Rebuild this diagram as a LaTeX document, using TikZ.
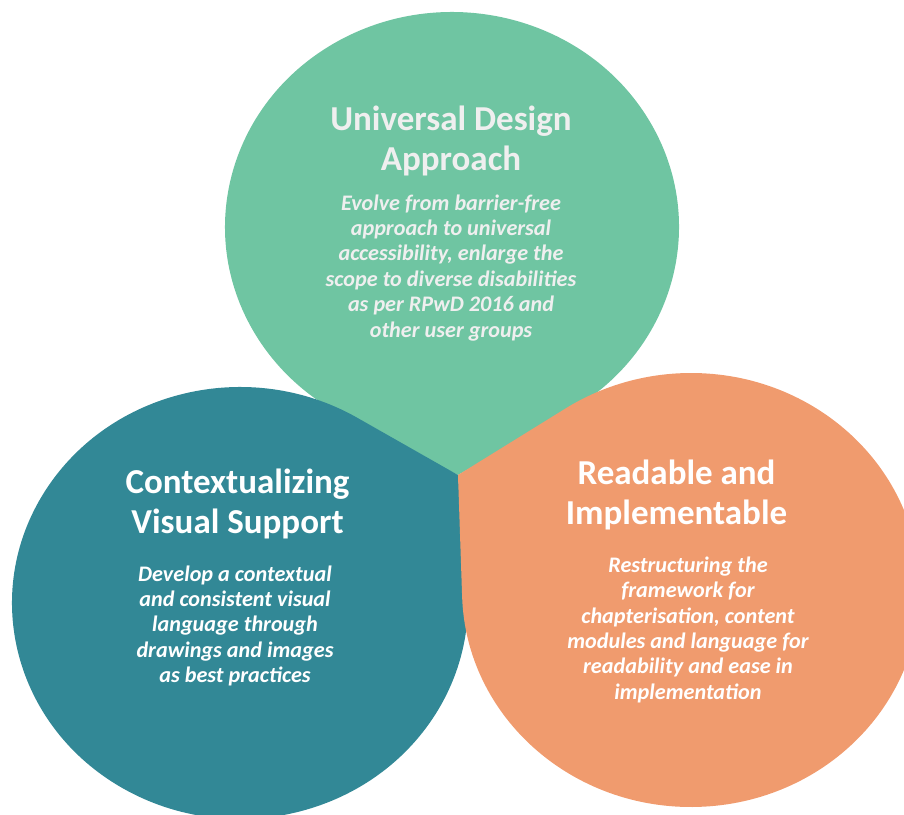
\documentclass[tikz,border=0pt]{standalone}
\usepackage{fontspec}
\setmainfont{Carlito}
\usetikzlibrary{calc}
\definecolor{udgreen}{HTML}{6FC5A2}
\definecolor{cvteal}{HTML}{328896}
\definecolor{riorange}{HTML}{F09B6E}
\definecolor{paletext}{HTML}{EFEFEF}

\begin{document}
\begin{tikzpicture}[x=1pt,y=1pt,
    head/.style={font=\fontsize{35}{40}\selectfont\bfseries,align=center,anchor=base},
    body/.style={font=\fontsize{22.2}{25.4}\selectfont\bfseries\itshape,align=center,anchor=base}]
  \useasboundingbox (0,0) rectangle (904,-814);
  \coordinate (tip) at (458,-475);
  \coordinate (gc) at (452,-227);
  \coordinate (tc) at (240,-603);
  \coordinate (oc) at (691,-590);
  \fill[udgreen] (tip) -- ($(gc)+(-58.8:227 and 215)$) arc[start angle=-58.8,end angle=241.4,x radius=227,y radius=215] -- cycle;
  \fill[cvteal] (tip) -- ($(tc)+(59.04:228 and 216)$) arc[start angle=59.04,end angle=364.54,x radius=228,y radius=216] -- cycle;
  \fill[riorange] (tip) -- ($(oc)+(181.83:229 and 217)$) arc[start angle=181.83,end angle=483.13,x radius=229,y radius=217] -- cycle;
  \node[head,text=paletext] (udhead) at (451,-170.5) {Universal Design\\Approach};
  \node[body,text=paletext] (udtext) at (451,-337) {Evolve from barrier-free\\approach to universal\\accessibility, enlarge the\\scope to diverse disabilities\\as per RPwD 2016 and\\other user groups};
  \node[head,text=white] (cvhead) at (237.5,-533) {Contextualizing\\Visual Support};
  \node[body,text=white] (cvtext) at (235,-682.7) {Develop a contextual\\and consistent visual\\language through\\drawings and images\\as best practices};
  \node[head,text=white] (rihead) at (676.5,-524.3) {Readable and\\Implementable};
  \node[body,text=white] (ritext) at (688,-699.3) {Restructuring the\\framework for\\chapterisation, content\\modules and language for\\readability and ease in\\implementation};
\end{tikzpicture}
\end{document}
